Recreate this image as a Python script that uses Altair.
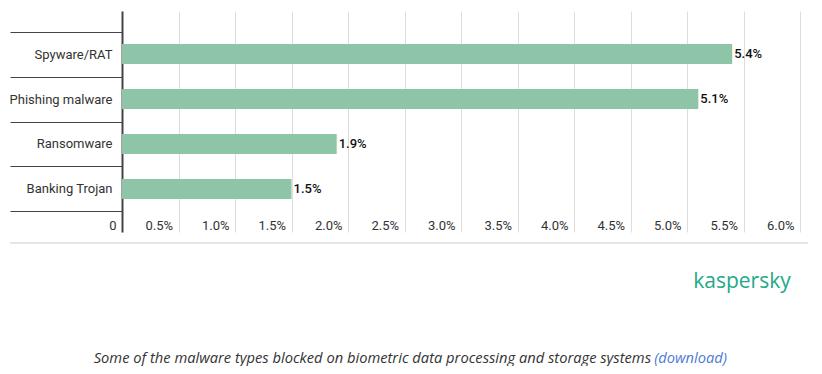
import altair as alt
import pandas as pd

categories = ["Spyware/RAT", "Phishing malware", "Ransomware", "Banking Trojan"]
values = [5.4, 5.1, 1.9, 1.5]
x_ticks = [0, 0.5, 1.0, 1.5, 2.0, 2.5, 3.0, 3.5, 4.0, 4.5, 5.0, 5.5, 6.0]
logo_text = ["kaspersky"]
caption_text = ["Some of the malware types blocked on biometric data processing and storage systems"]
link_text = ["(download)"]

df = pd.DataFrame({
    "category": categories,
    "value": values,
    "label": [f"{v:.1f}%" for v in values],
})

y_enc = alt.Y(
    "category:N",
    sort=categories,
    title=None,
    scale=alt.Scale(paddingInner=0, paddingOuter=0.456),
    axis=alt.Axis(
        domainColor="#444", domainWidth=2,
        tickBand="extent", tickSize=112, tickColor="#444", tickWidth=1,
        labelPadding=-102, labelFont="Roboto", labelFontSize=13,
        labelColor="#333", labelOverlap=False, grid=False,
    ),
)
x_enc = alt.X(
    "value:Q",
    title=None,
    scale=alt.Scale(domain=[0, 6], nice=False, zero=True),
    axis=alt.Axis(
        values=x_ticks, grid=True, gridColor="#dddddd", gridWidth=1,
        domain=False, ticks=False, tickSize=0,
        labelAlign="right", labelOffset=-6, labelBaseline="alphabetic",
        labelPadding=-3, labelFlush=False, labelOverlap=False,
        labelExpr="datum.value == 0 ? '0' : format(datum.value, '.1f') + '%'",
        labelFont="Roboto", labelFontSize=13, labelColor="#333",
    ),
)

base = alt.Chart(df)
bars = base.mark_bar(size=20, color="#8ec4a8").encode(x=x_enc, y=y_enc)
labels = base.mark_text(
    align="left", baseline="middle", dx=2, font="Roboto", fontSize=13,
    fontWeight=500, color="#111"
).encode(x="value:Q", y=alt.Y("category:N", sort=categories), text="label:N")

line = alt.Chart(pd.DataFrame({"a": [0]})).mark_rule(color="#dddddd", strokeWidth=1.5).encode(
    x=alt.value(-112), x2=alt.value(687), y=alt.value(232)
)
logo = alt.Chart(pd.DataFrame({"t": logo_text})).mark_text(
    align="center", baseline="alphabetic", font="Open Sans", fontSize=21,
    fontWeight="normal", color="#23a987",
).encode(text="t:N", x=alt.value(620), y=alt.value(277))
caption = alt.Chart(pd.DataFrame({"t": caption_text})).mark_text(
    align="right", baseline="alphabetic", font="Open Sans", fontSize=14.7,
    fontStyle="italic", color="#333",
).encode(text="t:N", x=alt.value(529), y=alt.value(352))
link = alt.Chart(pd.DataFrame({"t": link_text})).mark_text(
    align="right", baseline="alphabetic", font="Open Sans", fontSize=14.7,
    fontStyle="italic", color="#4d7bd6",
).encode(text="t:N", x=alt.value(605), y=alt.value(352))

chart = alt.layer(bars, labels, line, logo, caption, link).properties(
    width=678, height=221,
    padding={"left": 114, "top": 3, "right": 8, "bottom": 134},
    autosize="none", background="white",
).configure_view(stroke=None)

chart.save("out.html", embed_options={"renderer": "svg", "actions": False})
